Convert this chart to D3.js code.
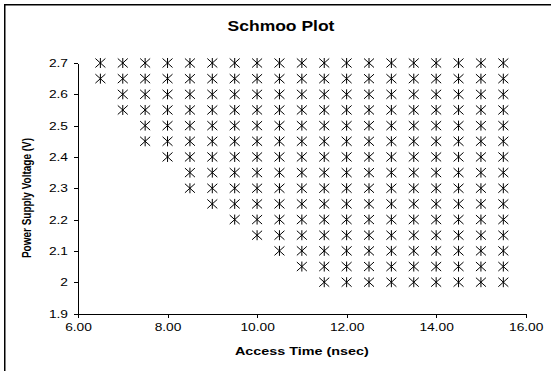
<!DOCTYPE html>
<html>
<head>
<meta charset="utf-8">
<script src="https://cdn.jsdelivr.net/npm/d3@7"></script>
<style>
  body { margin: 0; background: #fff; }
  svg { display: block; font-family: "Liberation Sans", Arial, sans-serif; }
  .axis path, .axis line { stroke: #000; shape-rendering: crispEdges; }
  .axis text { fill: #000; font-size: 11px; }
</style>
</head>
<body>
<div id="chart"></div>
<script>
// access times tested (nsec)
const accessTimes = [6.5, 7, 7.5, 8, 8.5, 9, 9.5, 10, 10.5, 11, 11.5, 12, 12.5, 13, 13.5, 14, 14.5, 15, 15.5];
// supply voltages tested (V)
const voltages = [2.7, 2.65, 2.6, 2.55, 2.5, 2.45, 2.4, 2.35, 2.3, 2.25, 2.2, 2.15, 2.1, 2.05, 2.0];
// fastest passing access time at each voltage
const passFrom = [6.5, 6.5, 7, 7, 7.5, 7.5, 8, 8.5, 8.5, 9, 9.5, 10, 10.5, 11, 11.5];

const xTicks = [6, 8, 10, 12, 14, 16];
const yTicks = [1.9, 2, 2.1, 2.2, 2.3, 2.4, 2.5, 2.6, 2.7];

const points = [];
voltages.forEach((v, i) => {
    accessTimes.forEach(t => {
        if (t >= passFrom[i]) points.push({ t: t, v: v });
    });
});

const W = 551, H = 371;
const margin = { left: 78, right: 551 - 525.7, top: 63, bottom: 371 - 313.5 };
const stretch = 1.25;

const svg = d3.select('#chart').append('svg')
    .attr('width', W)
    .attr('height', H);

svg.append('rect')
    .attr('x', 4.75).attr('y', 4.75)
    .attr('width', 600).attr('height', 400)
    .attr('fill', '#fff')
    .attr('stroke', '#000')
    .attr('stroke-width', 1.5);

const xScale = d3.scaleLinear()
    .domain([6, 16])
    .range([margin.left, W - margin.right]);

const yScale = d3.scaleLinear()
    .domain([1.9, 2.7])
    .range([H - margin.bottom, margin.top]);

const xAxis = d3.axisBottom(xScale)
    .tickValues(xTicks)
    .tickFormat(d3.format('.2f'))
    .tickSizeInner(4)
    .tickSizeOuter(0)
    .tickPadding(6);

const yAxis = d3.axisLeft(yScale)
    .tickValues(yTicks)
    .tickFormat(d => d3.format('.1f')(d).replace(/\.0$/, ''))
    .tickSizeInner(4)
    .tickSizeOuter(0)
    .tickPadding(4);

svg.append('g')
    .attr('class', 'x axis')
    .attr('transform', 'translate(0,' + (H - margin.bottom) + ')')
    .call(xAxis)
    .selectAll('text')
    .attr('transform', 'scale(' + stretch + ',1)');

svg.append('g')
    .attr('class', 'y axis')
    .attr('transform', 'translate(' + margin.left + ',0)')
    .call(yAxis)
    .selectAll('text')
    .attr('transform', 'scale(' + stretch + ',1)');

const star = 'M-5,-4.5L5,4.5M-5,4.5L5,-4.5M0,-5L0,5';

svg.append('g')
    .selectAll('path')
    .data(points)
    .enter()
    .append('path')
    .attr('transform', d => 'translate(' + xScale(d.t) + ',' + yScale(d.v) + ')')
    .attr('d', star)
    .attr('fill', 'none')
    .attr('stroke', '#000')
    .attr('stroke-width', 1);

svg.append('text')
    .attr('transform', 'translate(281,30.5) scale(' + stretch + ',1)')
    .attr('text-anchor', 'middle')
    .style('font-size', '14px')
    .style('font-weight', 'bold')
    .text('Schmoo Plot');

svg.append('text')
    .attr('transform', 'translate(' + ((margin.left + W - margin.right) / 2) + ',355) scale(' + stretch + ',1)')
    .attr('text-anchor', 'middle')
    .style('font-size', '11.5px')
    .style('font-weight', 'bold')
    .text('Access Time (nsec)');

svg.append('text')
    .attr('transform', 'translate(31,198) scale(' + stretch + ',1) rotate(-90)')
    .attr('text-anchor', 'middle')
    .style('font-size', '10px')
    .style('font-weight', 'bold')
    .text('Power Supply Voltage (V)');
</script>
</body>
</html>
